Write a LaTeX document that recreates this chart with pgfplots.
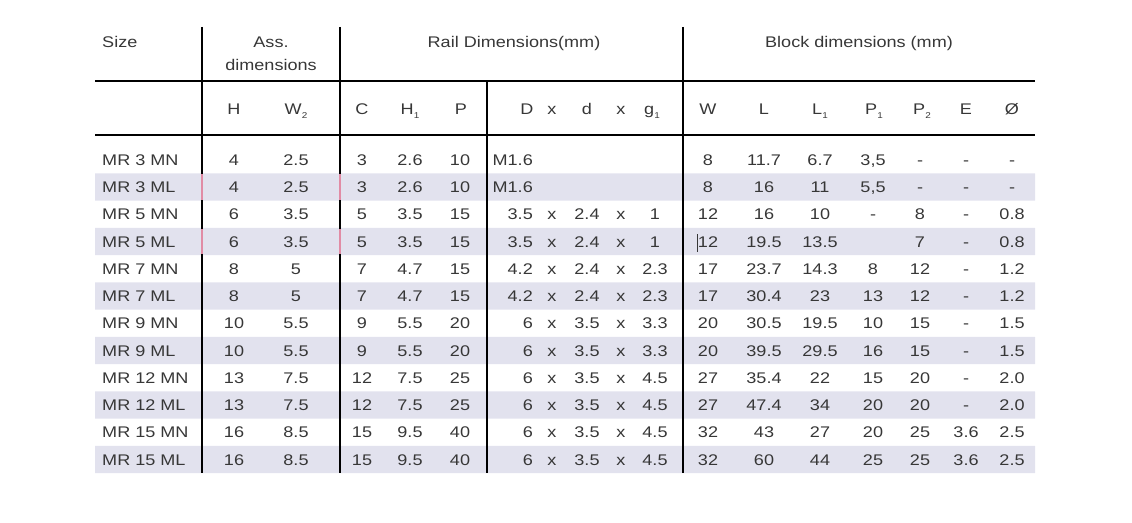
\documentclass[border=0pt]{standalone}
\usepackage{fontspec}
\setmainfont{Liberation Sans}[FakeStretch=1.17]
\usepackage{pgfplots}
\usepackage{pgfplotstable}
\pgfplotsset{compat=1.18}

\definecolor{stripe}{RGB}{226,226,238}
\definecolor{ink}{RGB}{55,55,55}
\definecolor{pinkline}{RGB}{225,140,165}

% y = text baseline in pixels from the top
\pgfplotstableread[col sep=semicolon]{
y;Size;H;W2;C;H1;P;D;xa;d;xb;g;W;L;La;Pa;Pb;E;O
165.2;MR 3 MN;4;2.5;3;2.6;10;M1.6;;;;;8;11.7;6.7;3,5;-;-;-
192.5;MR 3 ML;4;2.5;3;2.6;10;M1.6;;;;;8;16;11;5,5;-;-;-
219.7;MR 5 MN;6;3.5;5;3.5;15;3.5;x;2.4;x;1;12;16;10;-;8;-;0.8
247.0;MR 5 ML;6;3.5;5;3.5;15;3.5;x;2.4;x;1;12;19.5;13.5;;7;-;0.8
274.2;MR 7 MN;8;5;7;4.7;15;4.2;x;2.4;x;2.3;17;23.7;14.3;8;12;-;1.2
301.5;MR 7 ML;8;5;7;4.7;15;4.2;x;2.4;x;2.3;17;30.4;23;13;12;-;1.2
328.7;MR 9 MN;10;5.5;9;5.5;20;6;x;3.5;x;3.3;20;30.5;19.5;10;15;-;1.5
356.0;MR 9 ML;10;5.5;9;5.5;20;6;x;3.5;x;3.3;20;39.5;29.5;16;15;-;1.5
383.2;MR 12 MN;13;7.5;12;7.5;25;6;x;3.5;x;4.5;27;35.4;22;15;20;-;2.0
410.5;MR 12 ML;13;7.5;12;7.5;25;6;x;3.5;x;4.5;27;47.4;34;20;20;-;2.0
437.7;MR 15 MN;16;8.5;15;9.5;40;6;x;3.5;x;4.5;32;43;27;20;25;3.6;2.5
465.0;MR 15 ML;16;8.5;15;9.5;40;6;x;3.5;x;4.5;32;60;44;25;25;3.6;2.5
}\rails

\newcommand{\cellfont}{\fontsize{15.5}{18}\selectfont}
\newcommand{\sub}[1]{\raisebox{-0.45ex}{\fontsize{8.5}{10}\selectfont #1}}

\pgfplotsset{
  cell/.style={draw=none, mark=none, nodes near coords,
    point meta=explicit symbolic,
    nodes near coords style={anchor=#1, font=\cellfont, text=ink, inner sep=0pt}},
  cell/.default=base,
  rule/.style={black, line width=1.1pt, mark=none},
  band/.style={fill=stripe, draw=none, mark=none},
}

\begin{document}
\begin{tikzpicture}
\begin{axis}[
  width=1132bp, height=523bp, scale only axis,
  xmin=0, xmax=1132, ymin=0, ymax=523, y dir=reverse,
  hide axis, clip=false,
]
\path (rel axis cs:0,0) rectangle (rel axis cs:1,1);

% shaded rows
\addplot[band] coordinates {(95,173.25) (1035,173.25) (1035,200.5) (95,200.5) (95,173.25)};
\addplot[band] coordinates {(95,227.75) (1035,227.75) (1035,255) (95,255) (95,227.75)};
\addplot[band] coordinates {(95,282.25) (1035,282.25) (1035,309.5) (95,309.5) (95,282.25)};
\addplot[band] coordinates {(95,336.75) (1035,336.75) (1035,364) (95,364) (95,336.75)};
\addplot[band] coordinates {(95,391.25) (1035,391.25) (1035,418.5) (95,418.5) (95,391.25)};
\addplot[band] coordinates {(95,445.75) (1035,445.75) (1035,473) (95,473) (95,445.75)};

% rules
\addplot[rule] coordinates {(95,81) (1035,81)};
\addplot[rule] coordinates {(95,135) (1035,135)};
\addplot[rule] coordinates {(202,27) (202,473)};
\addplot[rule] coordinates {(340,27) (340,473)};
\addplot[rule] coordinates {(683,27) (683,473)};
\addplot[rule] coordinates {(487,81) (487,473)};
\addplot[pinkline, line width=1.1pt] coordinates {(202,174) (202,200)};
\addplot[pinkline, line width=1.1pt] coordinates {(340,174) (340,200)};
\addplot[pinkline, line width=1.1pt] coordinates {(202,229) (202,254)};
\addplot[pinkline, line width=1.1pt] coordinates {(340,229) (340,254)};
\addplot[ink, line width=0.8pt] coordinates {(697.5,234) (697.5,252)};

% header
\node[anchor=base west, font=\cellfont, text=ink, inner sep=0pt] at (axis cs:102,47.5) {Size};
\node[anchor=base, font=\cellfont, text=ink, inner sep=0pt] at (axis cs:271,47.5) {Ass.};
\node[anchor=base, font=\cellfont, text=ink, inner sep=0pt] at (axis cs:271,70.5) {dimensions};
\node[anchor=base, font=\cellfont, text=ink, inner sep=0pt] at (axis cs:514,47.5) {Rail Dimensions(mm)};
\node[anchor=base, font=\cellfont, text=ink, inner sep=0pt] at (axis cs:859,47.5) {Block dimensions (mm)};
\begin{scope}[every node/.style={anchor=base, font=\cellfont, text=ink, inner sep=0pt}]
\node at (axis cs:234,114.5) {H};
\node at (axis cs:296,114.5) {W\sub{2}};
\node at (axis cs:362,114.5) {C};
\node at (axis cs:410,114.5) {H\sub{1}};
\node at (axis cs:461,114.5) {P};
\node at (axis cs:527,114.5) {D};
\node at (axis cs:552,114.5) {x};
\node at (axis cs:587,114.5) {d};
\node at (axis cs:621,114.5) {x};
\node at (axis cs:652,114.5) {g\sub{1}};
\node at (axis cs:708,114.5) {W};
\node at (axis cs:764,114.5) {L};
\node at (axis cs:820,114.5) {L\sub{1}};
\node at (axis cs:874,114.5) {P\sub{1}};
\node at (axis cs:922,114.5) {P\sub{2}};
\node at (axis cs:966,114.5) {E};
\node at (axis cs:1012,114.5) {Ø};
\end{scope}

% body cells
\addplot[cell=base west] table[x expr=102, y=y, meta=Size] {\rails};
\addplot[cell] table[x expr=234, y=y, meta=H] {\rails};
\addplot[cell] table[x expr=296, y=y, meta=W2] {\rails};
\addplot[cell] table[x expr=362, y=y, meta=C] {\rails};
\addplot[cell] table[x expr=410, y=y, meta=H1] {\rails};
\addplot[cell] table[x expr=460, y=y, meta=P] {\rails};
\addplot[cell=base east] table[x expr=533, y=y, meta=D] {\rails};
\addplot[cell] table[x expr=552, y=y, meta=xa] {\rails};
\addplot[cell] table[x expr=587, y=y, meta=d] {\rails};
\addplot[cell] table[x expr=621, y=y, meta=xb] {\rails};
\addplot[cell] table[x expr=655, y=y, meta=g] {\rails};
\addplot[cell] table[x expr=708, y=y, meta=W] {\rails};
\addplot[cell] table[x expr=764, y=y, meta=L] {\rails};
\addplot[cell] table[x expr=820, y=y, meta=La] {\rails};
\addplot[cell] table[x expr=873, y=y, meta=Pa] {\rails};
\addplot[cell] table[x expr=920, y=y, meta=Pb] {\rails};
\addplot[cell] table[x expr=966, y=y, meta=E] {\rails};
\addplot[cell] table[x expr=1012, y=y, meta=O] {\rails};
\end{axis}
\end{tikzpicture}
\end{document}
